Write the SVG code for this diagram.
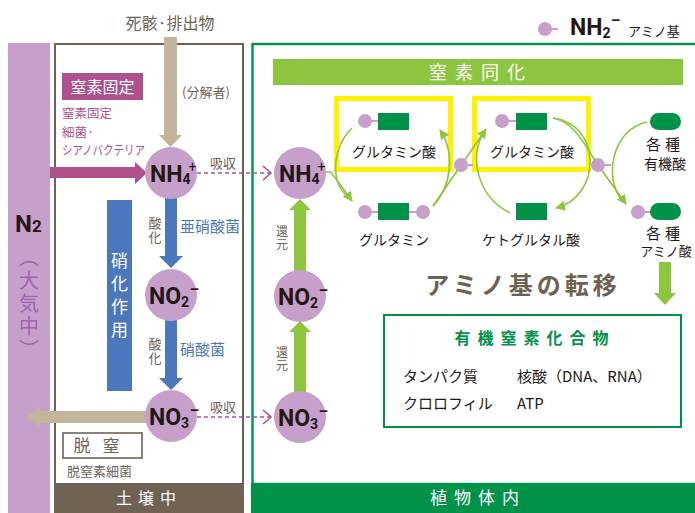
<svg xmlns="http://www.w3.org/2000/svg" width="695" height="513" viewBox="0 0 695 513">
<defs>
<style>
.jp{font-family:"Noto Sans CJK JP",sans-serif;}
.ion{font-family:Roboto,"Liberation Sans",sans-serif;font-weight:700;font-size:23px;fill:#231815;}
.ionsm{font-size:14px;}
.plus{font-size:14px;font-weight:400;}
.minus{font-family:"Liberation Sans",Arial,sans-serif;font-size:15px;font-weight:700;}
.vert{writing-mode:vertical-rl;}
.brown{fill:#6f6253;}
.body{fill:#231815;}
.lav{fill:#c6a0cb;}
.dg{fill:#009249;}
.conn{fill:none;stroke:#8cc63f;stroke-width:1.6;}
.pinkln{stroke:#c6a0cb;stroke-width:2;}
.dash{fill:none;stroke:#b0508e;stroke-width:1.6;stroke-dasharray:4 3;}
.chev{fill:none;stroke:#b0508e;stroke-width:1.6;}
.yel{fill:none;stroke:#fff100;stroke-width:5;}
</style>
<marker id="ga" viewBox="0 0 10 10" refX="9" refY="5" markerWidth="10" markerHeight="10" markerUnits="userSpaceOnUse" orient="auto">
<path d="M0,0 L10,5 L0,10 Z" fill="#8cc63f"/>
</marker>
</defs>
<rect width="695" height="513" fill="#ffffff"/>

<!-- frames -->
<g id="atmosphere">
<rect x="8" y="43" width="42" height="470" fill="#c6a0cb"/>
<text x="15" y="232" style="font-family:Roboto,'Liberation Sans',sans-serif;font-weight:700;font-size:24px" fill="#231815">N<tspan font-size="17px">2</tspan></text>
<text x="29" y="247" class="jp vert" style="font-size:20px;letter-spacing:3px" fill="#a064ad">（大気中）</text>
</g>
<g id="soil">
<rect x="55" y="44" width="188" height="440" fill="#ffffff" stroke="#6f6253" stroke-width="2"/>
<rect x="54" y="483" width="190" height="30" fill="#6f6253"/>
<text x="149" y="504" class="jp" text-anchor="middle" font-size="16" fill="#ffffff" letter-spacing="6">土壌中</text>
</g>
<g id="plant">
<rect x="252.5" y="44" width="460" height="440" fill="#ffffff" stroke="#009249" stroke-width="2.4"/>
<rect x="251" y="483" width="444" height="30" fill="#009249"/>
<text x="478" y="504" class="jp" text-anchor="middle" font-size="17" fill="#ffffff" letter-spacing="7">植物体内</text>
</g>

<!-- top labels -->
<g id="legend">
<circle cx="545" cy="29" r="7" class="lav"/>
<line x1="551" y1="29" x2="558" y2="29" class="pinkln"/>
<text x="570" y="35" class="ion" font-size="21">NH<tspan class="ionsm" dy="3">2</tspan><tspan class="minus" dx="1" dy="-13">−</tspan></text>
<text x="628" y="36" class="jp body" font-size="13">アミノ基</text>
</g>
<g id="remains">
<text x="170" y="29" class="jp brown" text-anchor="middle" font-size="16">死骸·排出物</text>
</g>
<text x="182" y="97" class="jp brown" font-size="13">(分解者)</text>

<g id="fixation">
<rect x="62" y="73" width="81" height="27" fill="#b0508e"/>
<text x="102.5" y="93" class="jp" text-anchor="middle" font-size="16" fill="#ffffff">窒素固定</text>
<text x="62" y="118" class="jp" font-size="12.5" fill="#b0508e">窒素固定</text>
<text x="62" y="136.5" class="jp" font-size="12.5" fill="#b0508e">細菌·</text>
<text x="62" y="155" class="jp" font-size="12.5" fill="#b0508e" textLength="83" lengthAdjust="spacingAndGlyphs">シアノバクテリア</text>
</g>

<g id="nitrification">
<rect x="107" y="200" width="25" height="191" fill="#4b78bd"/>
<text x="119.5" y="252" class="jp vert" font-size="17" fill="#ffffff" letter-spacing="6">硝化作用</text>
</g>

<g id="denitrification">
<rect x="63" y="433" width="79" height="25" fill="#ffffff" stroke="#6f6253" stroke-width="1.6"/>
<text x="102.5" y="452" class="jp brown" text-anchor="middle" font-size="17" letter-spacing="12">脱窒</text>
<text x="67" y="476" class="jp brown" font-size="13">脱窒素細菌</text>
</g>

<!-- highlight frames -->
<g id="highlights">
<rect x="336.5" y="98.5" width="114" height="71" class="yel"/>
<rect x="474.5" y="98.5" width="114" height="71" class="yel"/>
</g>

<!-- connectors -->
<g id="connectors">
<polygon points="164,37 177,37 177,135 182,135 170.5,147 159,135 164,135" fill="#c3b59b"/>
<polygon points="50,167 135,167 135,162 147,173 135,184 135,178 50,178" fill="#b0508e"/>
<polygon points="150,411 40,411 40,406 27,417 40,428 40,423 150,423" fill="#c3b59b"/>
<polygon points="165,196 177,196 177,256 183,256 171,268 159,256 165,256" fill="#4b78bd"/>
<polygon points="165,319 177,319 177,378 183,378 171,390 159,378 165,378" fill="#4b78bd"/>
<polygon points="294,393 306,393 306,332 311,332 300,321 289,332 294,332" fill="#8cc63f"/>
<polygon points="294,271 306,271 306,210 311,210 300,199 289,210 294,210" fill="#8cc63f"/>
<polygon points="659,262 671,262 671,293 676,293 665,305 654,293 659,293" fill="#8cc63f"/>
<line x1="197" y1="173" x2="270" y2="173" class="dash"/>
<polyline points="263,166 271,173 263,180" class="chev"/>
<line x1="197" y1="417" x2="270" y2="417" class="dash"/>
<polyline points="263,410 271,417 263,424" class="chev"/>
<text x="210" y="168" class="jp brown" font-size="13">吸収</text>
<text x="210" y="412" class="jp brown" font-size="13">吸収</text>
<text x="155" y="217" class="jp brown vert" font-size="13" letter-spacing="1">酸化</text>
<text x="155" y="338" class="jp brown vert" font-size="13" letter-spacing="1">酸化</text>
<text x="180" y="232" class="jp" font-size="15" fill="#4b78bd">亜硝酸菌</text>
<text x="180" y="355" class="jp" font-size="15" fill="#4b78bd">硝酸菌</text>
<text x="282" y="225" class="jp brown vert" font-size="12" letter-spacing="1">還元</text>
<text x="282" y="346" class="jp brown vert" font-size="12" letter-spacing="1">還元</text>
<path d="M325,172 L331,172 L352,201" class="conn" marker-end="url(#ga)"/>
<path d="M352,128 C332,148 330,182 348,197" class="conn"/>
<path d="M433,206 C452,186 455,152 440,130" class="conn" marker-end="url(#ga)"/>
<path d="M433,206 L486,129" class="conn" marker-end="url(#ga)"/>
<path d="M510,213 C478,197 468,157 484,132" class="conn"/>
<path d="M553,118 C602,124 602,196 556,208" class="conn" marker-end="url(#ga)"/>
<path d="M553,118 C575,122 585,146 598,165 L626,204" class="conn" marker-end="url(#ga)"/>
<path d="M647,122 C610,130 604,182 623,201" class="conn"/>
</g>

<!-- ion nodes -->
<g id="nh4-soil">
<circle cx="171" cy="173" r="26" class="lav"/>
<text x="150" y="182" class="ion">NH<tspan class="ionsm" dy="2">4</tspan><tspan class="plus" dx="-2" dy="-12">+</tspan></text>
</g>
<g id="no2-soil">
<circle cx="171" cy="295" r="26" class="lav"/>
<text x="149" y="304" class="ion">NO<tspan class="ionsm" dy="3">2</tspan><tspan class="minus" dx="1" dy="-13">−</tspan></text>
</g>
<g id="no3-soil">
<circle cx="171" cy="416" r="26" class="lav"/>
<text x="149" y="425" class="ion">NO<tspan class="ionsm" dy="3">3</tspan><tspan class="minus" dx="1" dy="-13">−</tspan></text>
</g>
<g id="nh4-plant">
<circle cx="300" cy="173" r="26" class="lav"/>
<text x="279" y="182" class="ion">NH<tspan class="ionsm" dy="2">4</tspan><tspan class="plus" dx="-2" dy="-12">+</tspan></text>
</g>
<g id="no2-plant">
<circle cx="300" cy="296" r="26" class="lav"/>
<text x="278" y="305" class="ion">NO<tspan class="ionsm" dy="3">2</tspan><tspan class="minus" dx="1" dy="-13">−</tspan></text>
</g>
<g id="no3-plant">
<circle cx="300" cy="417" r="26" class="lav"/>
<text x="278" y="426" class="ion">NO<tspan class="ionsm" dy="3">3</tspan><tspan class="minus" dx="1" dy="-13">−</tspan></text>
</g>

<!-- assimilation -->
<g id="assimilation-title">
<rect x="273" y="59" width="410" height="26" fill="#8cc63f"/>
<text x="481" y="79" class="jp" text-anchor="middle" font-size="18" fill="#ffffff" letter-spacing="8">窒素同化</text>
</g>
<g id="glutamate-1">
<line x1="365" y1="121" x2="378" y2="121" class="pinkln"/>
<circle cx="365" cy="121" r="7" class="lav"/>
<rect x="378" y="113" width="31" height="17" class="dg"/>
<text x="394" y="157" class="jp body" text-anchor="middle" font-size="14">グルタミン酸</text>
</g>
<g id="glutamate-2">
<line x1="502" y1="121" x2="516" y2="121" class="pinkln"/>
<circle cx="502" cy="121" r="7" class="lav"/>
<rect x="516" y="113" width="31" height="17" class="dg"/>
<text x="532" y="157" class="jp body" text-anchor="middle" font-size="14">グルタミン酸</text>
</g>
<g id="glutamine">
<line x1="365" y1="212" x2="423" y2="212" class="pinkln"/>
<circle cx="365" cy="212" r="7" class="lav"/>
<circle cx="423" cy="212" r="7" class="lav"/>
<rect x="378" y="203" width="31" height="17" class="dg"/>
<text x="394" y="245" class="jp body" text-anchor="middle" font-size="14">グルタミン</text>
</g>
<g id="ketoglutarate">
<rect x="516" y="203" width="31" height="17" class="dg"/>
<text x="531" y="245" class="jp body" text-anchor="middle" font-size="14">ケトグルタル酸</text>
</g>
<g id="amino-group-1">
<line x1="461" y1="165" x2="473" y2="165" class="pinkln"/>
<circle cx="461" cy="165" r="7" class="lav"/>
</g>
<g id="amino-group-2">
<line x1="598" y1="165" x2="611" y2="165" class="pinkln"/>
<circle cx="598" cy="165" r="7" class="lav"/>
</g>
<g id="organic-acids">
<rect x="650" y="113" width="31" height="17" rx="8.5" class="dg"/>
<text x="665" y="150" class="jp body" text-anchor="middle" font-size="15" letter-spacing="4">各種</text>
<text x="665" y="169" class="jp body" text-anchor="middle" font-size="14">有機酸</text>
</g>
<g id="amino-acids">
<line x1="638" y1="212" x2="651" y2="212" class="pinkln"/>
<circle cx="638" cy="212" r="7" class="lav"/>
<rect x="650" y="203" width="31" height="17" rx="8.5" class="dg"/>
<text x="665" y="239" class="jp body" text-anchor="middle" font-size="15" letter-spacing="4">各種</text>
<text x="666" y="256" class="jp body" text-anchor="middle" font-size="13">アミノ酸</text>
</g>
<text x="523" y="294" class="jp brown" text-anchor="middle" font-size="24" font-weight="700" letter-spacing="4">アミノ基の転移</text>
<g id="organic-nitrogen">
<rect x="384" y="315" width="297" height="112" fill="#ffffff" stroke="#009249" stroke-width="2"/>
<text x="535" y="344" class="jp" text-anchor="middle" font-size="16" font-weight="700" fill="#009249" letter-spacing="7">有機窒素化合物</text>
<text x="403" y="382" class="jp body" font-size="15">タンパク質</text>
<text x="517" y="382" class="jp body" font-size="15">核酸（DNA、RNA）</text>
<text x="403" y="409" class="jp body" font-size="15">クロロフィル</text>
<text x="517" y="409" class="jp body" font-size="15">ATP</text>
</g>
</svg>
